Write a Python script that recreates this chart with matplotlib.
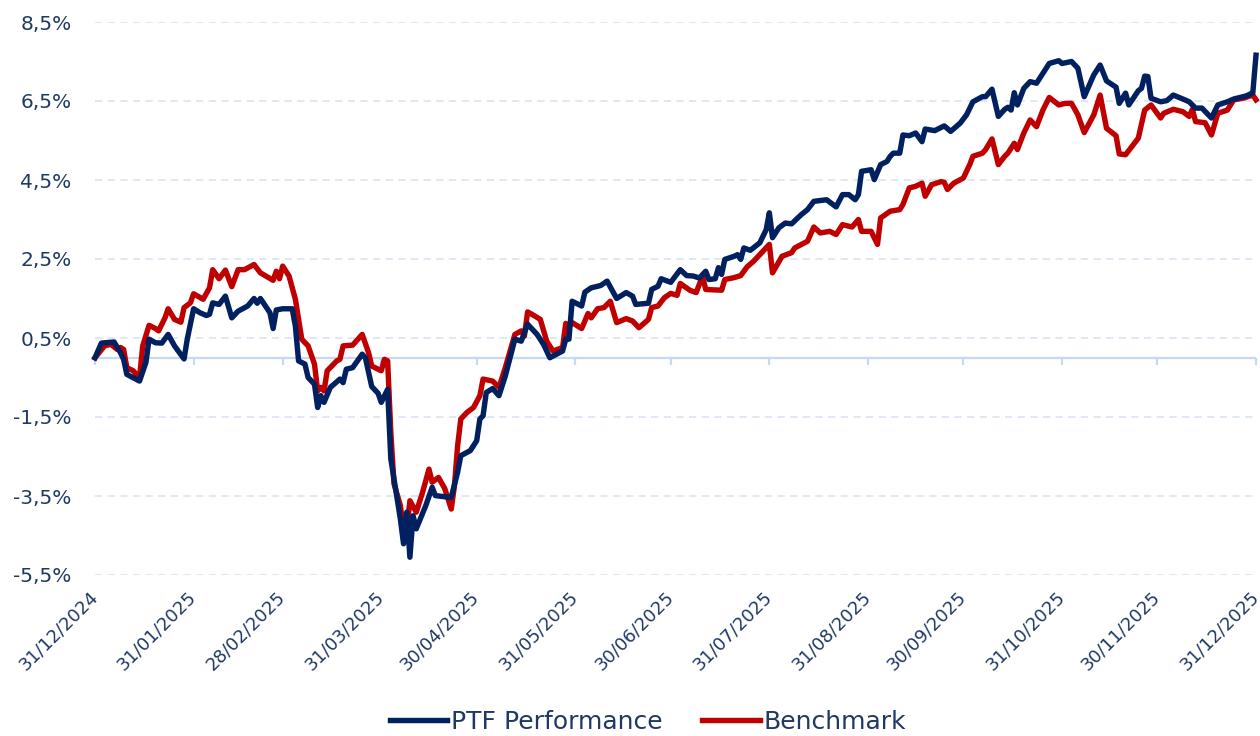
import numpy as np
import pandas as pd
import matplotlib
matplotlib.use("Agg")
import matplotlib.pyplot as plt
from matplotlib.ticker import FuncFormatter

# Days since 31/12/2024 and cumulative performance (%)
ptf_day = [0, 2, 6, 8, 9, 10, 14, 16, 17, 19, 21, 23, 25, 28, 29, 31, 33, 35, 36, 37,
           39, 41, 43, 45, 48, 50, 51, 52, 55, 56, 57, 59, 62, 63, 64, 66, 67, 69, 70, 71,
           72, 74, 77, 78, 79, 81, 84, 85, 87, 89, 90, 92, 93, 95, 96, 97, 98, 99, 100, 101,
           104, 106, 107, 111, 112, 114, 115, 118, 120, 121, 122, 123, 125, 127, 129, 132, 134, 136, 139, 141,
           143, 147, 148, 149, 150, 153, 154, 156, 159, 161, 164, 167, 169, 170, 174, 175, 177, 178, 181, 184,
           186, 188, 190, 192, 193, 195, 196, 197, 198, 201, 202, 203, 204, 206, 209, 211, 212, 213, 215, 217,
           219, 222, 224, 226, 230, 233, 235, 237, 239, 240, 241, 244, 245, 247, 249, 250, 251, 253, 254, 256,
           258, 260, 261, 264, 267, 269, 272, 274, 276, 279, 280, 282, 284, 286, 287, 288, 289, 290, 292, 294,
           296, 298, 300, 303, 304, 307, 309, 311, 314, 316, 318, 321, 322, 324, 325, 328, 329, 330, 331, 332,
           335, 337, 339, 342, 344, 346, 348, 351, 353, 356, 358, 362, 364, 365]
ptf_val = [0.0, 0.37, 0.40, 0.13, -0.04, -0.42, -0.59, -0.12, 0.47, 0.38, 0.37, 0.59, 0.30, -0.03, 0.47, 1.24, 1.14, 1.07, 1.10, 1.39,
           1.35, 1.56, 1.01, 1.18, 1.31, 1.50, 1.38, 1.50, 1.14, 0.74, 1.21, 1.24, 1.24, 0.80, -0.08, -0.16, -0.50, -0.67, -1.26, -0.96,
           -1.13, -0.75, -0.54, -0.63, -0.29, -0.25, 0.09, 0.00, -0.73, -0.90, -1.13, -0.80, -2.56, -3.57, -4.08, -4.71, -3.91, -5.05, -4.00, -4.33,
           -3.74, -3.28, -3.49, -3.53, -3.53, -2.90, -2.48, -2.35, -2.10, -1.55, -1.47, -0.88, -0.78, -0.96, -0.46, 0.47, 0.42, 0.85, 0.59, 0.34,
           0.00, 0.17, 0.47, 0.47, 1.43, 1.31, 1.66, 1.77, 1.83, 1.94, 1.50, 1.65, 1.56, 1.35, 1.38, 1.73, 1.81, 2.00, 1.91, 2.23,
           2.08, 2.07, 2.02, 2.19, 1.98, 2.00, 2.28, 2.11, 2.49, 2.57, 2.61, 2.49, 2.78, 2.72, 2.91, 3.24, 3.67, 3.04, 3.29, 3.41,
           3.39, 3.62, 3.75, 3.96, 4.00, 3.82, 4.13, 4.13, 4.00, 4.13, 4.72, 4.76, 4.51, 4.89, 4.97, 5.10, 5.18, 5.18, 5.64, 5.62,
           5.69, 5.47, 5.79, 5.75, 5.87, 5.73, 5.94, 6.15, 6.48, 6.61, 6.61, 6.80, 6.11, 6.29, 6.34, 6.27, 6.71, 6.40, 6.82, 6.99,
           6.95, 7.20, 7.45, 7.52, 7.45, 7.50, 7.33, 6.61, 7.16, 7.41, 7.01, 6.85, 6.44, 6.70, 6.40, 6.76, 6.82, 7.13, 7.12, 6.57,
           6.48, 6.51, 6.65, 6.55, 6.48, 6.32, 6.32, 6.07, 6.40, 6.48, 6.55, 6.63, 6.71, 7.66]

bm_day = [0, 3, 5, 7, 8, 9, 10, 12, 14, 15, 17, 19, 20, 22, 23, 25, 27, 28, 30, 31,
          34, 36, 37, 39, 41, 43, 45, 47, 50, 52, 56, 57, 58, 59, 61, 63, 65, 67, 69, 70,
          71, 72, 73, 76, 77, 78, 81, 84, 86, 87, 90, 91, 92, 93, 94, 96, 97, 98, 99, 101,
          103, 105, 106, 108, 110, 112, 113, 114, 115, 117, 119, 121, 122, 125, 127, 129, 132, 134, 135, 136,
          138, 140, 142, 144, 147, 148, 149, 150, 153, 155, 156, 158, 160, 162, 164, 167, 169, 171, 174, 175,
          177, 179, 181, 183, 184, 187, 189, 191, 192, 194, 197, 198, 201, 203, 205, 207, 209, 212, 213, 216,
          219, 220, 224, 226, 228, 231, 233, 235, 238, 240, 241, 244, 246, 247, 250, 253, 254, 256, 258, 260,
          261, 263, 266, 267, 268, 270, 273, 275, 276, 279, 280, 282, 284, 286, 287, 289, 290, 292, 294, 296,
          298, 300, 303, 305, 307, 309, 311, 314, 316, 318, 321, 322, 324, 328, 330, 332, 335, 336, 339, 342,
          344, 345, 346, 349, 351, 353, 356, 358, 361, 364, 365]
bm_val = [0.0, 0.30, 0.34, 0.21, 0.26, 0.21, -0.25, -0.33, -0.50, 0.30, 0.82, 0.74, 0.68, 1.01, 1.24, 0.97, 0.90, 1.27, 1.39, 1.62,
          1.48, 1.77, 2.23, 2.00, 2.22, 1.80, 2.23, 2.23, 2.36, 2.15, 1.96, 2.19, 2.00, 2.32, 2.07, 1.48, 0.47, 0.30, -0.16, -0.84,
          -0.75, -0.84, -0.33, -0.08, -0.04, 0.30, 0.32, 0.59, 0.13, -0.21, -0.33, -0.04, -0.08, -1.89, -3.19, -3.74, -4.37, -4.37, -3.62, -3.91,
          -3.40, -2.82, -3.15, -3.03, -3.32, -3.83, -3.24, -2.23, -1.55, -1.38, -1.26, -0.96, -0.54, -0.59, -0.75, -0.25, 0.59, 0.68, 0.55, 1.16,
          1.07, 0.97, 0.42, 0.17, 0.26, 0.87, 0.79, 0.89, 0.74, 1.12, 1.01, 1.24, 1.27, 1.43, 0.89, 0.99, 0.93, 0.76, 0.97, 1.27,
          1.31, 1.52, 1.63, 1.58, 1.88, 1.71, 1.65, 2.07, 1.73, 1.72, 1.71, 1.98, 2.03, 2.08, 2.30, 2.44, 2.61, 2.87, 2.15, 2.57,
          2.66, 2.78, 2.95, 3.31, 3.16, 3.20, 3.12, 3.37, 3.31, 3.50, 3.20, 3.20, 2.87, 3.54, 3.71, 3.75, 3.88, 4.30, 4.34, 4.42,
          4.09, 4.38, 4.46, 4.44, 4.26, 4.42, 4.55, 4.89, 5.10, 5.18, 5.27, 5.54, 4.89, 5.10, 5.18, 5.43, 5.27, 5.69, 6.02, 5.85,
          6.27, 6.59, 6.40, 6.44, 6.44, 6.15, 5.70, 6.15, 6.65, 5.81, 5.62, 5.16, 5.14, 5.56, 6.27, 6.40, 6.07, 6.19, 6.29, 6.23,
          6.11, 6.29, 5.98, 5.95, 5.64, 6.19, 6.27, 6.53, 6.57, 6.65, 6.53]

month_ends = ["2024-12-31", "2025-01-31", "2025-02-28", "2025-03-31", "2025-04-30", "2025-05-31", "2025-06-30",
              "2025-07-31", "2025-08-31", "2025-09-30", "2025-10-31", "2025-11-30", "2025-12-31"]
y_ticks = [-5.5, -3.5, -1.5, 0.5, 2.5, 4.5, 6.5, 8.5]

start = pd.Timestamp("2024-12-31")
ptf_dates = start + pd.to_timedelta(ptf_day, unit="D")
bm_dates = start + pd.to_timedelta(bm_day, unit="D")
tick_dates = pd.to_datetime(month_ends)

navy = "#002060"
red = "#c00000"
txt = "#1f3864"
grid_c = "#dce6f2"

fig = plt.figure(figsize=(12.6, 7.36), dpi=100)
ax = fig.add_axes([95 / 1260, 1 - 575 / 736, (1256 - 95) / 1260, (575 - 22) / 736])

# Gridlines
for yv in y_ticks:
    ax.axhline(yv, color=grid_c, lw=1.3, ls=(0, (4, 3)), zorder=1)
ax.axhline(0, color="#c6d9f1", lw=1.6, zorder=2)

ax.plot(ptf_dates, ptf_val, color=navy, lw=3.9, label="PTF Performance", zorder=4,
        solid_joinstyle="round", clip_on=False)
ax.plot(bm_dates, bm_val, color=red, lw=3.9, label="Benchmark", zorder=3,
        solid_joinstyle="round", clip_on=False)

ax.set_xlim(tick_dates[0], tick_dates[-1])
ax.set_ylim(-5.5, 8.5)
ax.set_yticks(y_ticks)
ax.yaxis.set_major_formatter(FuncFormatter(lambda v, p: f"{v:.1f}%".replace(".", ",")))
ax.tick_params(axis="y", length=0, labelsize=14.5, labelcolor=txt, pad=17)

ax.set_xticks(tick_dates)
ax.set_xticklabels([d.strftime("%d/%m/%Y") for d in tick_dates], rotation=45,
                   ha="right", va="center", rotation_mode="anchor", fontsize=13, color=txt)
ax.tick_params(axis="x", length=0, pad=14)

for s in ax.spines.values():
    s.set_visible(False)

# small tick marks on the zero line
sec = ax.secondary_xaxis(5.5 / 14)
sec.set_xticks(tick_dates)
sec.tick_params(axis="x", length=5, width=1.6, color="#c6d9f1", labelbottom=False, labeltop=False)
for s in sec.spines.values():
    s.set_visible(False)

fig.legend(loc="center", bbox_to_anchor=(648 / 1260, 1 - 722 / 736), ncol=2, frameon=False,
           fontsize=18, handlelength=2.3, handletextpad=0.15, columnspacing=1.6,
           labelcolor=txt)

fig.savefig("out.png", dpi=100)
